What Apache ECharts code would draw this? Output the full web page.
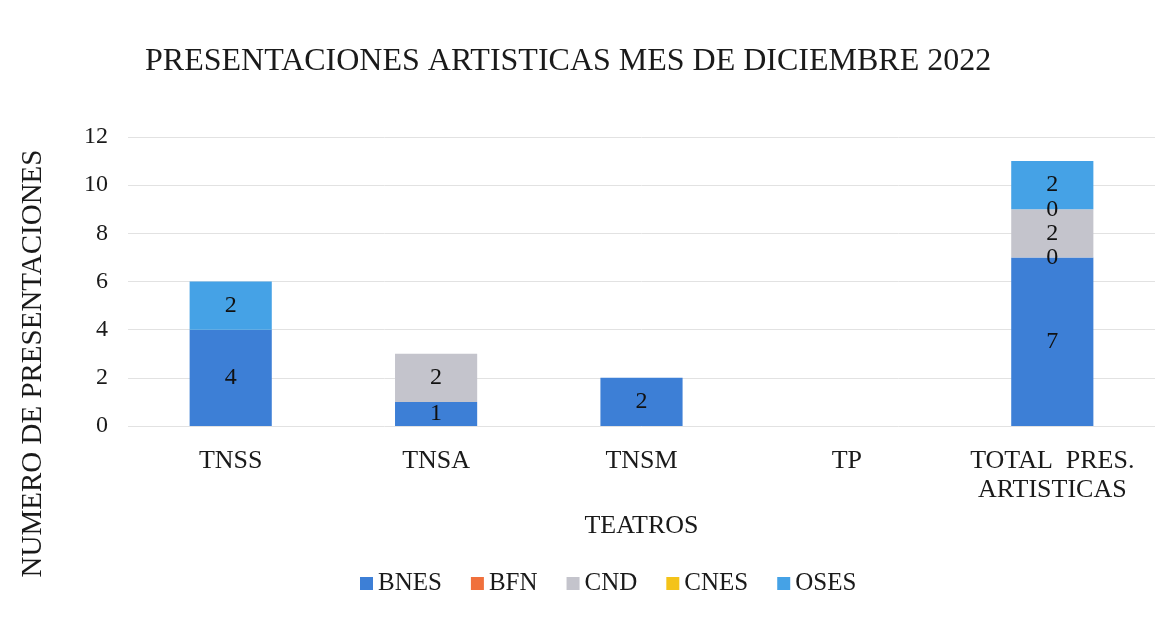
<!DOCTYPE html>
<html>
<head>
<meta charset="utf-8">
<script src="https://cdn.jsdelivr.net/npm/echarts@6/dist/echarts.min.js"></script>
<style>
  html, body { margin: 0; padding: 0; background: #fff; }
  #chart { width: 1169px; height: 630px; }
</style>
</head>
<body>
<div id="chart"></div>
<script>
// categorias (teatros)
const teatros = ['TNSS', 'TNSA', 'TNSM', 'TP', 'TOTAL  PRES.\nARTISTICAS'];
// series por compañía
const bnes = [4, 1, 2, null, 7];
const bfn = [null, null, null, null, 0];
const cnd = [null, 2, null, null, 2];
const cnes = [null, null, null, null, 0];
const oses = [2, null, null, null, 2];
const yTicks = [0, 2, 4, 6, 8, 10, 12];

const fuente = '"Liberation Serif", "DejaVu Serif", serif';

function serie(nombre, datos, color) {
  return {
    name: nombre,
    type: 'bar',
    stack: 'total',
    barWidth: '40%',
    data: datos,
    itemStyle: { color: color },
    label: {
      show: true,
      position: 'inside',
      color: '#111',
      fontFamily: fuente,
      fontSize: 24
    }
  };
}

const myChart = echarts.init(document.getElementById('chart'));

const option = {
  textStyle: { fontFamily: fuente },
  title: {
    text: 'PRESENTACIONES ARTISTICAS MES DE DICIEMBRE 2022',
    left: 140,
    top: 41,
    textStyle: { fontFamily: fuente, fontSize: 32, fontWeight: 'normal', color: '#1a1a1a' }
  },
  legend: {
    top: 566,
    left: 355,
    itemWidth: 13,
    itemHeight: 13,
    itemGap: 29,
    icon: 'rect',
    textStyle: { fontFamily: fuente, fontSize: 25, color: '#1a1a1a' },
    data: ['BNES', 'BFN', 'CND', 'CNES', 'OSES']
  },
  grid: { left: 128, right: 14, top: 137, bottom: 204 },
  xAxis: {
    type: 'category',
    data: teatros,
    name: 'TEATROS',
    nameLocation: 'middle',
    nameGap: 87,
    nameTextStyle: { fontFamily: fuente, fontSize: 26, color: '#1a1a1a' },
    axisLine: { show: false },
    axisTick: { show: false },
    axisLabel: { interval: 0, fontFamily: fuente, fontSize: 26, color: '#1a1a1a', margin: 21, lineHeight: 29 }
  },
  yAxis: {
    type: 'value',
    min: yTicks[0],
    max: yTicks[yTicks.length - 1],
    interval: 2,
    name: 'NUMERO DE PRESENTACIONES',
    nameLocation: 'middle',
    nameGap: 80,
    nameTextStyle: { fontFamily: fuente, fontSize: 29, color: '#1a1a1a', padding: [0, 164, 0, 0] },
    axisLabel: { fontFamily: fuente, fontSize: 24, color: '#1a1a1a', margin: 20 },
    splitLine: { lineStyle: { color: '#e2e2e2' } }
  },
  series: [
    serie('BNES', bnes, '#3d7fd6'),
    serie('BFN', bfn, '#f0703c'),
    serie('CND', cnd, '#c4c4cc'),
    serie('CNES', cnes, '#f4c319'),
    serie('OSES', oses, '#45a2e6')
  ]
};

myChart.setOption(option);
window.addEventListener('resize', () => {
  myChart.resize();
});
</script>
</body>
</html>
